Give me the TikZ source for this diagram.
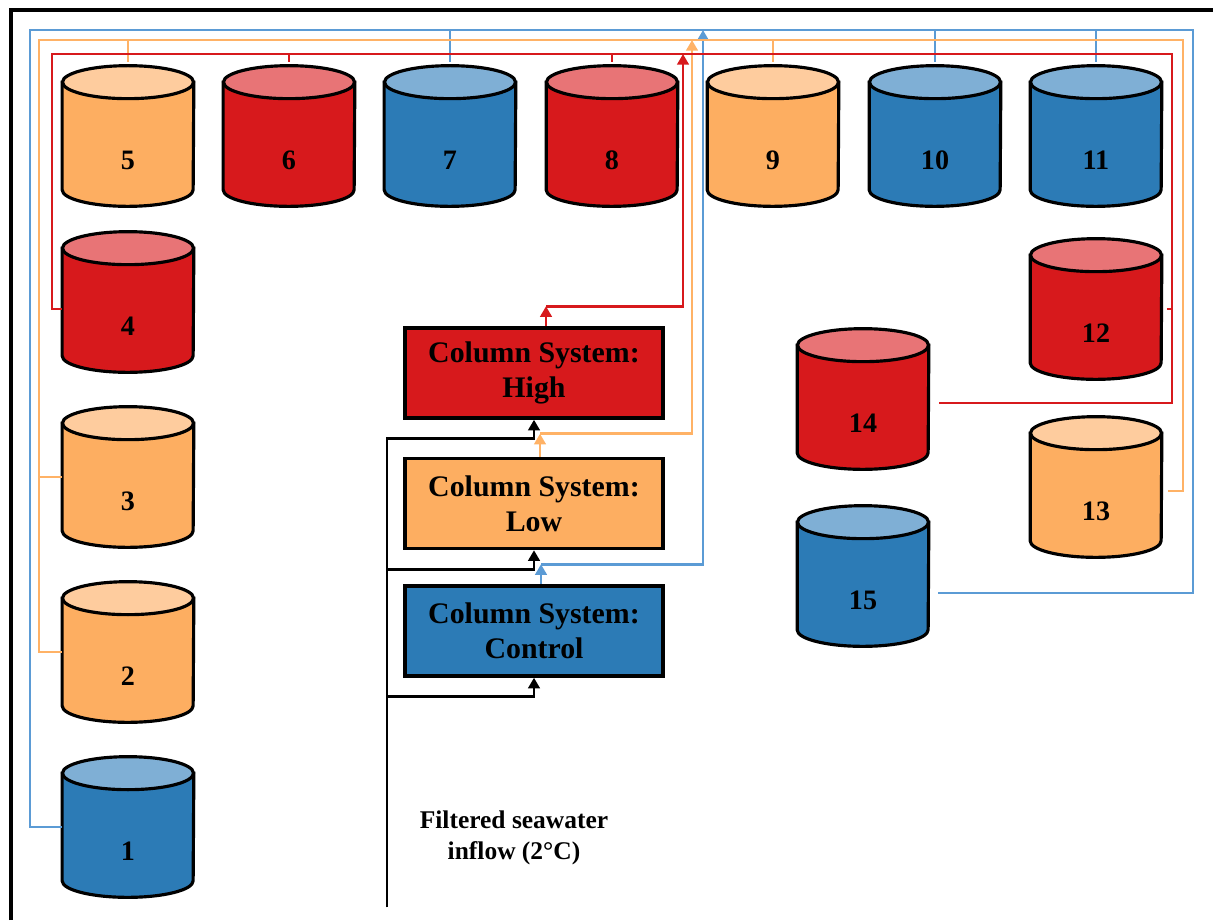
\documentclass[tikz,border=0pt]{standalone}
\usepackage{fontspec}
\setmainfont{Liberation Serif}
\usetikzlibrary{positioning}
\usetikzlibrary{arrows.meta}

\definecolor{bodyred}{HTML}{D7191C}
\definecolor{topred}{HTML}{E87476}
\definecolor{bodyorange}{HTML}{FDAE61}
\definecolor{toporange}{HTML}{FECC9E}
\definecolor{bodyblue}{HTML}{2C7BB6}
\definecolor{topblue}{HTML}{7FAFD5}
\definecolor{pipered}{HTML}{D7191C}
\definecolor{pipeorange}{HTML}{FFB266}
\definecolor{pipeblue}{HTML}{5B9BD5}

\tikzset{
  tank/.style={minimum width=2.62cm, minimum height=2.8cm, inner sep=0pt},
  tankline/.style={draw=black, line width=1.8pt},
  tanklabel/.style={font=\fontsize{16}{18}\selectfont\bfseries},
  column/.style={draw, line width=2pt, minimum width=5.16cm, minimum height=1.8cm,
    align=center, font=\fontsize{17}{20}\selectfont\bfseries},
  pipe/.style={line width=1.5pt},
  flow/.style={-{Triangle[width=6.5pt,length=6pt]}},
}

\begin{document}
\begin{tikzpicture}[x=0.02cm, y=-0.02cm]
\useasboundingbox (0,0) rectangle (1213,920);
\draw[line width=2.4pt] (11,920) -- (11,10) -- (1213,10);

% tanks
\foreach \n/\x/\y/\c in {1/128/827/blue, 2/128/652/orange, 3/128/477/orange, 4/128/302/red,
    5/128/136/orange, 6/289/136/red, 7/450/136/blue, 8/612/136/red, 9/773/136/orange,
    10/935/136/blue, 11/1096/136/blue, 12/1096/309/red, 13/1096/487/orange,
    14/863/399/red, 15/863/576/blue}{
  \node[tank] (t\n) at (\x,\y) {};
  \path[tankline, fill=body\c] ([yshift=-0.33cm]t\n.north west) -- ([yshift=0.33cm]t\n.south west)
    arc[start angle=180, end angle=360, x radius=1.31cm, y radius=0.33cm]
    -- ([yshift=-0.33cm]t\n.north east) -- cycle;
  \path[tankline, fill=top\c] ([yshift=-0.33cm]t\n.north) ellipse[x radius=1.31cm, y radius=0.33cm];
  \node[tanklabel] at ([yshift=-0.48cm]t\n.center) {\n};
}

% column systems
\node[column, fill=bodyred] (high) at (534,373) {Column System:\\High};
\node[column, fill=bodyorange, below=0.74cm of high] (low) {Column System:\\Low};
\node[column, fill=bodyblue, below=0.68cm of low] (control) {Column System:\\Control};

\node[font=\fontsize{14.5}{18}\selectfont\bfseries, align=center] (inflow) at (514,838) {Filtered seawater\\inflow (2°C)};
\coordinate (inlet) at (387,907);

% seawater feed
\draw[line width=1.5pt, flow] (inlet) |- ([yshift=-0.38cm]control.south) -- (control.south);
\draw[line width=1.5pt, flow] (inlet) |- ([yshift=-0.38cm]low.south) -- (low.south);
\draw[line width=1.5pt, flow] (inlet) |- ([yshift=-0.38cm]high.south) -- (high.south);

% header corners
\coordinate (bnw) at (30,30);
\coordinate (bne) at (1193,30);
\coordinate (onw) at (39,40);
\coordinate (one) at (1183,40);
\coordinate (rnw) at (52,54);
\coordinate (rne) at (1172,54);
\coordinate (bin) at (703,30);
\coordinate (oin) at (692,40);
\coordinate (rin) at (683,54);

% outflow to headers
\draw[pipe, pipeblue, flow] ([xshift=0.14cm]control.north) -- ++(0,-20) coordinate (bk);
\draw[pipe, pipeblue, flow] (bk) -| (bin);
\draw[pipe, pipeorange, flow] ([xshift=0.12cm]low.north) -- ++(0,-23) coordinate (ok);
\draw[pipe, pipeorange, flow] (ok) -| (oin);
\draw[pipe, pipered, flow] ([xshift=0.24cm]high.north) -- ++(0,-20) coordinate (rk);
\draw[pipe, pipered, flow] (rk) -| (rin);

% blue header
\draw[pipe, pipeblue] (t1.west) -| (bnw) -- (bne) |- ([yshift=-0.34cm,xshift=0.18cm]t15.east);
\foreach \n in {7,10,11}
  \draw[pipe, pipeblue] ([yshift=0.08cm]t\n.north) -- (t\n.north |- bnw);

% orange header
\draw[pipe, pipeorange] (t2.west) -| (onw) -- (one) |- ([yshift=-0.08cm,xshift=0.12cm]t13.east);
\draw[pipe, pipeorange] (t3.west) -- (t3.west -| onw);
\foreach \n in {5,9}
  \draw[pipe, pipeorange] ([yshift=0.08cm]t\n.north) -- (t\n.north |- onw);

% red header
\draw[pipe, pipered] ([yshift=-0.14cm]t4.west) -| (rnw) -- (rne) |- ([yshift=-0.08cm,xshift=0.2cm]t14.east);
\draw[pipe, pipered] ([xshift=0.1cm]t12.east) -- (t12.east -| rne);
\foreach \n in {6,8}
  \draw[pipe, pipered] ([yshift=0.08cm]t\n.north) -- (t\n.north |- rne);
\end{tikzpicture}
\end{document}
